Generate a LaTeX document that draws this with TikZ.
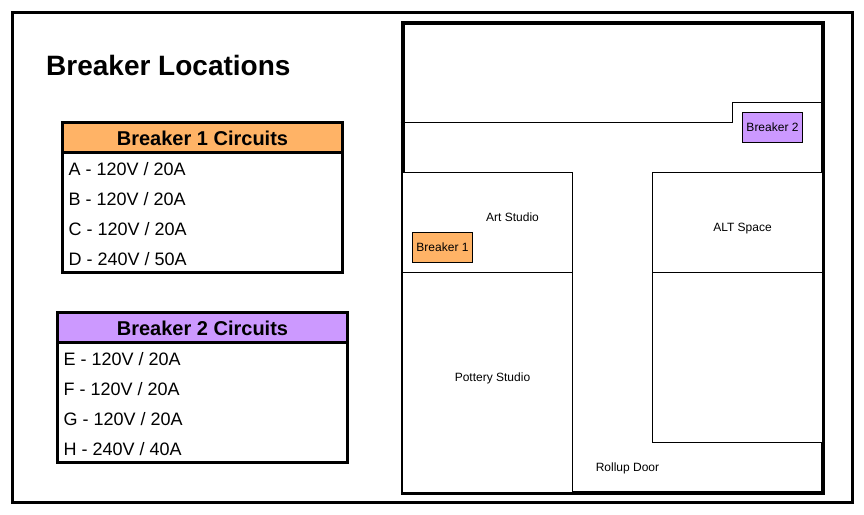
\documentclass[tikz,border=0pt]{standalone}
\usepackage{fontspec}
\setmainfont{Liberation Sans}

\begin{document}
\begin{tikzpicture}[x=1pt,y=-1pt,inner sep=0pt,
  wall/.style={rectangle,draw,line width=3pt},
  room/.style={rectangle,draw,fill=white,line width=1pt},
  panel/.style={rectangle,draw,line width=1pt,minimum width=60pt,minimum height=30pt,font=\fontsize{12}{14}\selectfont},
  tablebody/.style={rectangle,draw,line width=3pt,minimum height=120pt},
  tablehead/.style={rectangle,draw,line width=3pt,minimum height=30pt,font=\fontsize{20}{23}\selectfont\bfseries,text height=15pt,text depth=0pt},
  circuit/.style={anchor=base west,font=\fontsize{18}{21}\selectfont},
  place/.style={anchor=base,font=\fontsize{12}{14}\selectfont}]
\useasboundingbox (0,0) rectangle (864,514);
\node [wall,minimum width=840pt,minimum height=490pt] (frame) at (432.5,257.5) {};
\node [anchor=base west,font=\fontsize{28}{32}\selectfont\bfseries] (title) at (46,75) {Breaker Locations};

% building and rooms
\node [wall,line width=4pt,minimum width=420pt,minimum height=470pt] (building) at (612.5,257.5) {};
\node [room,minimum width=170pt,minimum height=100pt] (artroom) at (487.5,222.5) {};
\node [room,minimum width=170pt,minimum height=220pt] (potteryroom) at (487.5,382.5) {};
\node [room,minimum width=170pt,minimum height=100pt] (altroom) at (737.5,222.5) {};
\node [room,minimum width=170pt,minimum height=170pt] (lowerroom) at (737.5,357.5) {};
\coordinate (divstart) at (building.west |- 0,122.5);
\coordinate (divend) at (building.east |- 0,102.5);
\draw [line width=1pt] (divstart) -- (732.5,122.5) -- (732.5,102.5) -- (divend);
\node [place] (artlabel) at (512.5,221) {Art Studio};
\node [place] (altlabel) at (742.5,231) {ALT Space};
\node [place] (potterylabel) at (492.5,381) {Pottery Studio};
\node [place] (rolluplabel) at (627.5,471) {Rollup Door};
\node [panel,fill={rgb,255:red,255;green,179;blue,102}] (panela) at (442.5,247.5) {Breaker 1};
\node [panel,fill={rgb,255:red,204;green,153;blue,255}] (panelb) at (772.5,127.5) {Breaker 2};

% breaker 1 table
\node [tablebody,minimum width=280pt] (bodya) at (202.5,212.5) {};
\node [tablehead,minimum width=280pt,fill={rgb,255:red,255;green,179;blue,102}] (heada) at (202.5,137.5) {Breaker 1 Circuits};
\node [circuit] (rowa) at (68.5,175) {A - 120V / 20A};
\node [circuit] (rowb) at (68.5,205) {B - 120V / 20A};
\node [circuit] (rowc) at (68.5,235) {C - 120V / 20A};
\node [circuit] (rowd) at (68.5,265) {D - 240V / 50A};

% breaker 2 table
\node [tablebody,minimum width=290pt] (bodyb) at (202.5,402.5) {};
\node [tablehead,minimum width=290pt,fill={rgb,255:red,204;green,153;blue,255}] (headb) at (202.5,327.5) {Breaker 2 Circuits};
\node [circuit] (rowe) at (63.5,365) {E - 120V / 20A};
\node [circuit] (rowf) at (63.5,395) {F - 120V / 20A};
\node [circuit] (rowg) at (63.5,425) {G - 120V / 20A};
\node [circuit] (rowh) at (63.5,455) {H - 240V / 40A};
\end{tikzpicture}
\end{document}
